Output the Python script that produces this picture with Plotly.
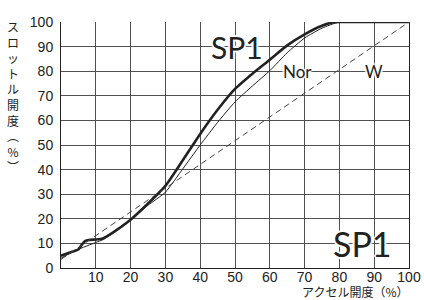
import plotly.graph_objects as go

# Accelerator opening (%) vs throttle opening (%)
sp1_x = [0, 3, 5, 6, 7, 8, 10, 12, 15, 20, 25, 30, 35, 40, 45, 50, 55, 60, 65, 70, 75, 78, 80, 100]
sp1_y = [5, 6.5, 7.5, 9.5, 11, 11.4, 11.6, 12, 14.5, 19.6, 26.2, 33.4, 43.8, 54.5, 64.3, 72.8, 79, 84.7, 90.5, 95, 98.5, 99.8, 100, 100]

nor_x = [0, 4.5, 10, 12.2, 15, 20, 25, 30, 35, 40, 45, 50, 55, 60, 65, 70, 75, 80, 100]
nor_y = [4, 7.3, 10.4, 11.6, 14.3, 19.6, 25.5, 30.8, 40.3, 50, 59.2, 67.5, 74, 80.2, 87.5, 93.5, 97.5, 100, 100]

w_x = [0, 100]
w_y = [3.5, 100]

x_ticks = [10, 20, 30, 40, 50, 60, 70, 80, 90, 100]
y_ticks = [0, 10, 20, 30, 40, 50, 60, 70, 80, 90, 100]
y_grid = [10, 20, 30, 40, 50, 60, 70, 80, 90]

ink = "#222222"
grid = "#505050"
tickfont = dict(family="Liberation Sans, Arial, sans-serif", size=14, color=ink)
halo = "2px 0 1px white, -2px 0 1px white, 0 2px 1px white, 0 -2px 1px white"

fig = go.Figure()
fig.add_trace(go.Scatter(x=w_x, y=w_y, mode="lines", yaxis="y2",
                         line=dict(color="#444444", width=1, dash="6px,4px"),
                         showlegend=False, hoverinfo="skip"))
fig.add_trace(go.Scatter(x=nor_x, y=nor_y, mode="lines",
                         line=dict(color=ink, width=1, shape="spline", smoothing=0.5),
                         showlegend=False, hoverinfo="skip"))
fig.add_trace(go.Scatter(x=sp1_x, y=sp1_y, mode="lines",
                         line=dict(color=ink, width=2.6, shape="spline", smoothing=0.5),
                         showlegend=False, hoverinfo="skip"))

fig.update_layout(
    template="none",
    width=424, height=300,
    margin=dict(l=61, r=15, t=22, b=32, autoexpand=False),
    paper_bgcolor="white", plot_bgcolor="white",
    xaxis=dict(range=[0, 100], tickmode="array", tickvals=x_ticks, automargin=False,
               showgrid=True, gridcolor=grid, gridwidth=1,
               showline=True, linecolor=ink, linewidth=1, mirror=False,
               zeroline=False, ticks="", tickfont=tickfont, ticklabelstandoff=-4),
    yaxis=dict(range=[0, 100], tickmode="array", tickvals=y_ticks, automargin=False,
               showgrid=False, showline=True, linecolor=ink, linewidth=1, mirror=True,
               zeroline=False, ticks="", tickfont=tickfont, ticklabelstandoff=4),
    yaxis2=dict(range=[0, 100], overlaying="y", anchor="x", side="left", automargin=False,
                tickmode="array", tickvals=y_grid, showticklabels=False,
                showgrid=True, gridcolor=grid, gridwidth=1,
                showline=False, zeroline=False, ticks=""),
)

ann_font = dict(family="Lato, sans-serif", color=ink)
fig.add_annotation(x=50.6, y=90, xref="x", yref="y", text="SP1", showarrow=False,
                   font=dict(size=30, shadow=halo, **ann_font))
fig.add_annotation(x=86.5, y=10, xref="x", yref="y", text="SP1", showarrow=False,
                   font=dict(size=34, shadow=halo, **ann_font))
fig.add_annotation(x=68, y=80, xref="x", yref="y", text="Nor", showarrow=False,
                   font=dict(size=17, shadow=halo, **ann_font))
fig.add_annotation(x=90, y=80, xref="x", yref="y", text="W", showarrow=False,
                   font=dict(size=17, shadow=halo, **ann_font))

cjk = "Noto Sans CJK JP, sans-serif"
fig.add_annotation(x=1, y=0, xref="paper", yref="paper", xanchor="right", yanchor="top",
                   yshift=-14, borderpad=0, text="アクセル開度（%）", showarrow=False,
                   font=dict(family=cjk, size=12, color=ink))
fig.add_annotation(x=-0.138, y=1.025, xref="paper", yref="paper", xanchor="center", yanchor="top",
                   text="ス<br>ロ<br>ッ<br>ト<br>ル<br>開<br>度<br>︵<br>%<br>︶", showarrow=False,
                   align="center", font=dict(family=cjk, size=12, color=ink))

fig.write_html("out.html", config={"displayModeBar": False},
               post_script="document.body.style.margin='0';document.body.style.padding='0';")
